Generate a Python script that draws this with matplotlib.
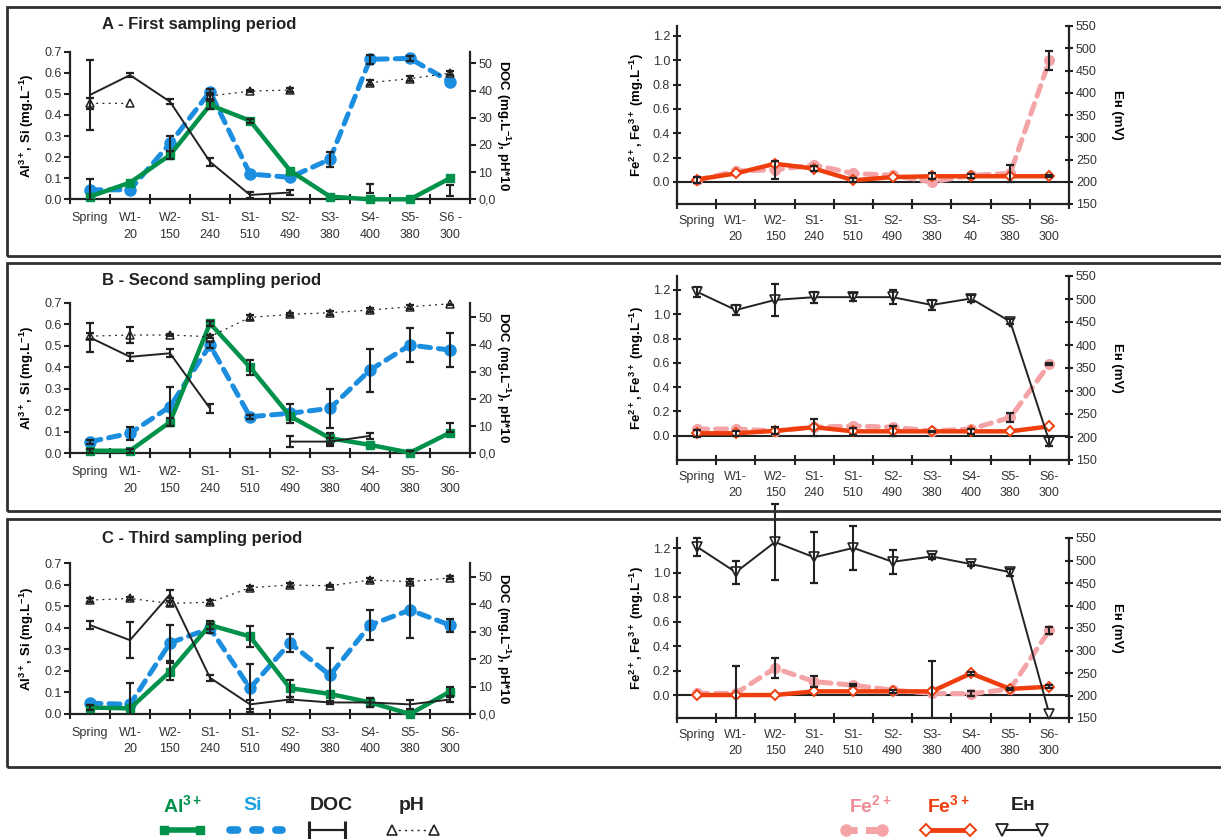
import numpy as np
import matplotlib
matplotlib.use('Agg')
import matplotlib.pyplot as plt
from matplotlib.lines import Line2D
from matplotlib.patches import Rectangle
from matplotlib import font_manager as fm

nan = np.nan

# ---------------- categories ----------------
cats_left_A = ['Spring', 'W1-\n20', 'W2-\n150', 'S1-\n240', 'S1-\n510', 'S2-\n490',
               'S3-\n380', 'S4-\n400', 'S5-\n380', 'S6 -\n300']
cats = ['Spring', 'W1-\n20', 'W2-\n150', 'S1-\n240', 'S1-\n510', 'S2-\n490',
        'S3-\n380', 'S4-\n400', 'S5-\n380', 'S6-\n300']
cats_right_A = ['Spring', 'W1-\n20', 'W2-\n150', 'S1-\n240', 'S1-\n510', 'S2-\n490',
                'S3-\n380', 'S4-\n40', 'S5-\n380', 'S6-\n300']
titles = ['A - First sampling period', 'B - Second sampling period', 'C - Third sampling period']

# ---------------- A : first sampling period ----------------
A_al = [0.013, 0.079, 0.21, 0.447, 0.373, 0.136, 0.013, 0.0, 0.0, 0.10]
A_al_err = [0, 0, 0.02, 0.02, 0.01, 0, 0, 0, 0, 0]
A_si = [0.045, 0.045, 0.265, 0.51, 0.12, 0.104, 0.19, 0.664, 0.668, 0.558]
A_si_err = [0.05, 0, 0.035, 0.015, 0, 0, 0.035, 0.02, 0.01, 0]
A_doc = [38.4, 45.7, 35.9, 13.8, 1.6, 2.5, nan, 4.0, nan, 3.2]
A_doc_err = [13, 0.6, 1.0, 1.5, 1.0, 1.0, 0, 1.8, 0, 2.0]
A_ph = [35.3, 35.3, nan, 38.0, 39.8, 40.2, nan, 42.9, 44.4, 46.4]
A_ph_err = [2, 0, 0, 1, 0.5, 0.8, 0, 1, 0.8, 0.8]
A_fe2 = [0.014, 0.09, 0.10, 0.14, 0.07, 0.055, 0.0, 0.055, 0.07, 1.0]
A_fe2_err = [0, 0, 0.075, 0, 0, 0, 0, 0, 0.07, 0.08]
A_fe3 = [0.02, 0.07, 0.15, 0.11, 0.014, 0.04, 0.047, 0.047, 0.047, 0.047]
A_fe3_err = [0.025, 0, 0, 0.02, 0.015, 0, 0.025, 0.015, 0, 0.01]

# ---------------- B : second sampling period ----------------
B_al = [0.012, 0.012, 0.145, 0.604, 0.40, 0.173, 0.07, 0.039, 0.003, 0.096]
B_al_err = [0.01, 0.01, 0.02, 0.01, 0.035, 0, 0.025, 0, 0.01, 0]
B_si = [0.054, 0.093, 0.217, 0.503, 0.17, 0.186, 0.209, 0.387, 0.503, 0.48]
B_si_err = [0.01, 0.03, 0.09, 0.015, 0.01, 0.045, 0.09, 0.1, 0.08, 0.08]
B_doc = [42.6, 35.5, 36.8, 16.5, nan, 4.3, 4.3, 6.4, nan, 9.5]
B_doc_err = [5.5, 1.5, 1.5, 1.5, 0, 2, 1.5, 1, 0, 1.5]
B_ph = [43.1, 43.5, 43.5, 42.9, 50.0, 51.1, 51.7, 52.7, 53.9, 55.0]
B_ph_err = [1, 3, 0.5, 0.5, 1, 0.5, 0.8, 0.8, 0.8, 0.5]
B_fe2 = [0.055, 0.055, 0.04, 0.07, 0.08, 0.07, 0.04, 0.055, 0.15, 0.59]
B_fe2_err = [0, 0, 0, 0, 0, 0, 0, 0, 0.04, 0.01]
B_fe3 = [0.02, 0.02, 0.04, 0.07, 0.036, 0.036, 0.036, 0.036, 0.036, 0.077]
B_fe3_err = [0.03, 0.02, 0.03, 0.07, 0.03, 0.04, 0.005, 0.02, 0, 0]
B_eh = [516, 476, 498, 504, 504, 504, 487, 501, 451, 190]
B_eh_err = [11, 11, 34, 12, 8, 15, 10, 8, 5, 10]

# ---------------- C : third sampling period ----------------
C_al = [0.03, 0.026, 0.197, 0.413, 0.36, 0.12, 0.093, 0.054, 0.0, 0.104]
C_al_err = [0.01, 0, 0.04, 0.02, 0.05, 0.04, 0, 0.02, 0, 0.02]
C_si = [0.05, 0.045, 0.33, 0.398, 0.12, 0.33, 0.18, 0.413, 0.483, 0.413]
C_si_err = [0, 0.1, 0.085, 0.02, 0.11, 0.04, 0.125, 0.07, 0.13, 0.03]
C_doc = [32.4, 26.9, 43.6, 13.2, 3.5, 5.3, 4.2, 4.2, 3.5, 5.3]
C_doc_err = [1.5, 6.6, 1.5, 1, 1.5, 1, 0.5, 1.5, 1.5, 1]
C_ph = [41.5, 42.1, 40.3, 40.7, 46.0, 47.0, 46.7, 48.8, 48.2, 49.6]
C_ph_err = [0.8, 0.5, 1, 0.8, 0.8, 0.8, 0.3, 0.8, 0.8, 0.5]
C_fe2 = [0.014, 0.014, 0.22, 0.11, 0.08, 0.04, 0.014, 0.01, 0.05, 0.53]
C_fe2_err = [0, 0.22, 0.08, 0.045, 0.01, 0, 0, 0.02, 0.01, 0.03]
C_fe3 = [0, 0, 0, 0.03, 0.03, 0.03, 0.03, 0.177, 0.05, 0.068]
C_fe3_err = [0, 0, 0, 0, 0, 0.01, 0.25, 0.01, 0.01, 0.01]
C_eh = [531, 474, 541, 507, 528, 497, 509, 492, 474, 158]
C_eh_err = [20, 26, 85, 56, 48, 27, 5, 5, 8, 0]

# ---------------- style ----------------
GREEN = '#00914A'
BLUE = '#1C8EE0'
PINK = '#F4A3A6'
RED = '#EE3E0E'
INK = '#222222'

names = {f.name for f in fm.fontManager.ttflist}
BASE = 'Liberation Sans' if 'Liberation Sans' in names else 'DejaVu Sans'
NARROW = 'Liberation Sans Narrow' if 'Liberation Sans Narrow' in names else BASE
plt.rcParams['font.family'] = [BASE, 'DejaVu Sans']
plt.rcParams['mathtext.default'] = 'regular'

W, H = 1221, 839
fig = plt.figure(figsize=(W / 100, H / 100), dpi=100)


def fx(px):
    return px / W


def fy(py):
    return 1 - py / H


def style_spines(ax, sides):
    for s in ['left', 'right', 'top', 'bottom']:
        ax.spines[s].set_visible(s in sides)
        ax.spines[s].set_linewidth(1.6)
        ax.spines[s].set_color(INK)


def setup_x(ax, labels, pad):
    n = len(labels)
    ax.set_xlim(-0.5, n - 0.5)
    ax.set_xticks(np.arange(n + 1) - 0.5)
    ax.set_xticklabels([''] * (n + 1))
    ax.set_xticks(np.arange(n), minor=True)
    ax.set_xticklabels(labels, minor=True)
    ax.tick_params(axis='x', which='major', direction='inout', length=7, width=1.5, color=INK)
    ax.tick_params(axis='x', which='minor', length=0, pad=pad, labelsize=9, labelcolor='#333333')
    for t in ax.get_xticklabels(minor=True):
        t.set_linespacing(1.45)


def ebars(ax, y, err, clip=True):
    y = np.asarray(y, float)
    err = np.asarray(err, float)
    x = np.arange(len(y))
    m = (err > 0) & ~np.isnan(y)
    if m.any():
        eb = ax.errorbar(x[m], y[m], yerr=err[m], fmt='none', ecolor=INK, elinewidth=1.5,
                         capsize=3.2, capthick=1.6, zorder=7)
        for a in tuple(eb.lines[1]) + tuple(eb.lines[2]):
            a.set_clip_on(clip)


def left_panel(rect, labels, al, al_e, si, si_e, doc, doc_e, ph, ph_e, doc_top):
    x = np.arange(len(labels))
    ax = fig.add_axes(rect)
    ax2 = ax.twinx()
    ax.plot(x, si, color=BLUE, lw=3.6, ls=(0, (2.2, 1.6)), dash_capstyle='round',
            marker='o', ms=8, mfc=BLUE, mec=BLUE, zorder=3)
    ax.plot(x, al, color=GREEN, lw=3.2, marker='s', ms=5.5, mfc=GREEN, mec=GREEN, zorder=4,
            clip_on=False)
    ebars(ax, si, si_e)
    ebars(ax, al, al_e)
    ax.set_ylim(0, 0.7)
    yt = np.arange(0, 0.71, 0.1)
    ax.set_yticks(yt)
    ax.set_yticklabels([f'{v:.1f}' for v in yt])
    ax2.plot(x, doc, color=INK, lw=1.4, zorder=3)
    ax2.plot(x, ph, color=INK, lw=0.9, ls=(0, (1.5, 3.5)), marker='^', ms=6, mfc='white',
             mec=INK, mew=1.1, zorder=4, clip_on=False)
    ebars(ax2, doc, doc_e)
    ebars(ax2, ph, ph_e)
    ax2.set_ylim(0, doc_top)
    ax2.set_yticks([0, 10, 20, 30, 40, 50])
    ax2.set_yticklabels(['0,0', '10', '20', '30', '40', '50'])
    setup_x(ax, labels, 9.5)
    style_spines(ax, ['left', 'bottom'])
    style_spines(ax2, ['right'])
    for a in (ax, ax2):
        a.tick_params(axis='y', direction='out', length=4, width=1.5, labelsize=9, pad=2,
                      color=INK, labelcolor='#333333')
    ax.set_ylabel(r'Al$^{3+}$, Si (mg.L$^{-1}$)', fontsize=9.5, fontweight='bold',
                  ha='center', va='center')
    ax.yaxis.set_label_coords(-0.107, 0.5)
    ax2.set_ylabel(r'DOC (mg.L$^{-1}$), pH*10', fontsize=9.5, fontweight='bold',
                   rotation=270, ha='center', va='center')
    ax2.yaxis.set_label_coords(1.083, 0.5)


def right_panel(rect, labels, fe2, fe2_e, fe3, fe3_e, eh, eh_e, ylo, yhi):
    x = np.arange(len(labels))
    ax = fig.add_axes(rect)
    ax2 = ax.twinx()
    ax.axhline(0, color=INK, lw=1.5, zorder=2)
    ax.plot(x, fe2, color=PINK, lw=3.6, ls=(0, (2.2, 1.6)), dash_capstyle='round',
            marker='o', ms=7, mfc=PINK, mec=PINK, zorder=3)
    ax.plot(x, fe3, color=RED, lw=3.2, marker='D', ms=5.5, mfc='white', mec=RED, mew=1.4,
            zorder=4)
    ebars(ax, fe2, fe2_e)
    ebars(ax, fe3, fe3_e)
    ax.set_ylim(ylo, yhi)
    yt = np.arange(0, 1.21, 0.2)
    ax.set_yticks(yt)
    ax.set_yticklabels([f'{v:.1f}' for v in yt])
    if eh is not None:
        ax2.plot(x, eh, color=INK, lw=1.4, marker='v', ms=7.5, mfc='white', mec=INK, mew=1.2,
                 zorder=5, clip_on=False)
        ebars(ax2, eh, eh_e, clip=False)
    ax2.set_ylim(150, 550)
    ax2.set_yticks(np.arange(150, 551, 50))
    setup_x(ax, labels, 8)
    style_spines(ax, ['left', 'bottom'])
    style_spines(ax2, ['right'])
    for a in (ax, ax2):
        a.tick_params(axis='y', direction='inout', length=6, width=1.5, labelsize=9, pad=2,
                      color=INK, labelcolor='#333333')
    ax.set_ylabel(r'Fe$^{2+}$, Fe$^{3+}$ (mg.L$^{-1}$)', fontsize=9.5, fontweight='bold',
                  ha='center', va='center')
    ax.yaxis.set_label_coords(-0.102, 0.5)
    ax2.set_ylabel('E\u029c (mV)', fontsize=9.5, fontweight='bold', rotation=270,
                   ha='center', va='center', family=[BASE, 'DejaVu Sans'])
    ax2.yaxis.set_label_coords(1.122, 0.5)


# ---------------- frames ----------------
for top, bot in [(7, 256), (263, 511), (519, 767)]:
    fig.add_artist(Rectangle((fx(7), fy(bot)), 1.2, (bot - top) / H, fill=False,
                             edgecolor='#303030', lw=2.0, transform=fig.transFigure,
                             clip_on=False))

# ---------------- panels ----------------
LX, LW_ = fx(70), 400 / W
RX, RW_ = fx(677), 392 / W

left_panel([LX, fy(199.3), LW_, 147.6 / H], cats_left_A, A_al, A_al_err, A_si, A_si_err,
           A_doc, A_doc_err, A_ph, A_ph_err, 54.3)
left_panel([LX, fy(453.3), LW_, 150.6 / H], cats, B_al, B_al_err, B_si, B_si_err,
           B_doc, B_doc_err, B_ph, B_ph_err, 55.4)
left_panel([LX, fy(714.0), LW_, 150.7 / H], cats, C_al, C_al_err, C_si, C_si_err,
           C_doc, C_doc_err, C_ph, C_ph_err, 54.9)

right_panel([RX, fy(204), RW_, 178 / H], cats_right_A, A_fe2, A_fe2_err, A_fe3, A_fe3_err,
            None, None, -0.181, 1.282)
right_panel([RX, fy(460), RW_, 184 / H], cats, B_fe2, B_fe2_err, B_fe3, B_fe3_err,
            B_eh, B_eh_err, -0.200, 1.315)
right_panel([RX, fy(718), RW_, 180 / H], cats, C_fe2, C_fe2_err, C_fe3, C_fe3_err,
            C_eh, C_eh_err, -0.188, 1.285)

for t, yy in zip(titles, [24, 280, 538]):
    fig.text(fx(102), fy(yy), t, fontsize=12, fontweight='bold', ha='left', va='center',
             color='#222222')

# ---------------- legend ----------------
leg_y_text = fy(805)
leg_y_line = fy(830)
leg_items = [
    (r'Al$^{3+}$', GREEN, 183),
    ('Si', '#1BA1E2', 253),
    ('DOC', INK, 331),
    ('pH', INK, 412),
    (r'Fe$^{2+}$', '#F08C96', 870),
    (r'Fe$^{3+}$', RED, 948),
    ('E\u029c', INK, 1023),
]
for lab, col, xx in leg_items:
    fig.text(fx(xx), leg_y_text, lab, fontsize=14, fontweight='bold', color=col,
             ha='center', va='center', family=[NARROW, BASE, 'DejaVu Sans'])


def handle(x0, x1, **kw):
    fig.add_artist(Line2D([fx(x0), fx(x1)], [leg_y_line, leg_y_line],
                          transform=fig.transFigure, **kw))


handle(164, 200, color=GREEN, lw=4, marker='s', ms=6, mfc=GREEN, mec=GREEN)
handle(230, 282, color=BLUE, lw=5.5, ls=(0, (1.0, 2.0)), dash_capstyle='round')
handle(309, 345, color=INK, lw=1.6, marker='|', ms=13, mew=2.2)
handle(392, 434, color=INK, lw=1.0, ls=(0, (1.5, 3)), marker='^', ms=7, mfc='white',
       mec=INK, mew=1.2)
handle(846, 882, color=PINK, lw=5, ls=(0, (1.6, 1.2)), marker='o', ms=8, mfc=PINK, mec=PINK)
handle(926, 970, color=RED, lw=3.5, marker='D', ms=6, mfc='white', mec=RED, mew=1.4)
handle(1002, 1042, color=INK, lw=1.5, marker='v', ms=8, mfc='white', mec=INK, mew=1.3)

fig.savefig('out.png', dpi=100)
